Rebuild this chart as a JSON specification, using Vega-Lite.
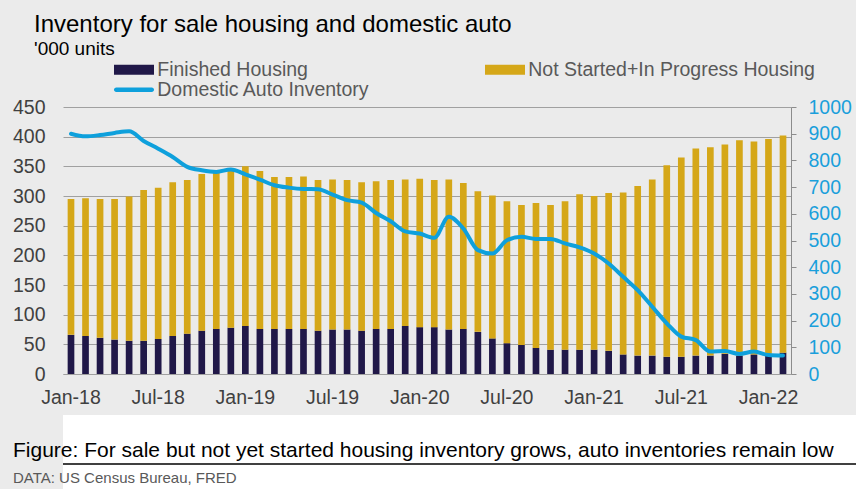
{
  "$schema": "https://vega.github.io/schema/vega-lite/v6.json",
  "background": "#ebebeb",
  "padding": {"left": 12, "top": 13, "right": 0, "bottom": 0},
  "spacing": 8,
  "config": {"font": "Liberation Sans", "view": {"stroke": null}},
  "datasets": {
    "housing": [
      {"month":"Jan-18","series":"Finished Housing","value":66},{"month":"Jan-18","series":"Not Started+In Progress Housing","value":229},
      {"month":"Feb-18","series":"Finished Housing","value":64},{"month":"Feb-18","series":"Not Started+In Progress Housing","value":232},
      {"month":"Mar-18","series":"Finished Housing","value":61},{"month":"Mar-18","series":"Not Started+In Progress Housing","value":234},
      {"month":"Apr-18","series":"Finished Housing","value":58},{"month":"Apr-18","series":"Not Started+In Progress Housing","value":237},
      {"month":"May-18","series":"Finished Housing","value":56},{"month":"May-18","series":"Not Started+In Progress Housing","value":243},
      {"month":"Jun-18","series":"Finished Housing","value":56},{"month":"Jun-18","series":"Not Started+In Progress Housing","value":254},
      {"month":"Jul-18","series":"Finished Housing","value":59},{"month":"Jul-18","series":"Not Started+In Progress Housing","value":255},
      {"month":"Aug-18","series":"Finished Housing","value":64},{"month":"Aug-18","series":"Not Started+In Progress Housing","value":259},
      {"month":"Sep-18","series":"Finished Housing","value":68},{"month":"Sep-18","series":"Not Started+In Progress Housing","value":259},
      {"month":"Oct-18","series":"Finished Housing","value":73},{"month":"Oct-18","series":"Not Started+In Progress Housing","value":264},
      {"month":"Nov-18","series":"Finished Housing","value":76},{"month":"Nov-18","series":"Not Started+In Progress Housing","value":265},
      {"month":"Dec-18","series":"Finished Housing","value":78},{"month":"Dec-18","series":"Not Started+In Progress Housing","value":268},
      {"month":"Jan-19","series":"Finished Housing","value":81},{"month":"Jan-19","series":"Not Started+In Progress Housing","value":269},
      {"month":"Feb-19","series":"Finished Housing","value":76},{"month":"Feb-19","series":"Not Started+In Progress Housing","value":266},
      {"month":"Mar-19","series":"Finished Housing","value":76},{"month":"Mar-19","series":"Not Started+In Progress Housing","value":256},
      {"month":"Apr-19","series":"Finished Housing","value":76},{"month":"Apr-19","series":"Not Started+In Progress Housing","value":256},
      {"month":"May-19","series":"Finished Housing","value":76},{"month":"May-19","series":"Not Started+In Progress Housing","value":257},
      {"month":"Jun-19","series":"Finished Housing","value":73},{"month":"Jun-19","series":"Not Started+In Progress Housing","value":254},
      {"month":"Jul-19","series":"Finished Housing","value":75},{"month":"Jul-19","series":"Not Started+In Progress Housing","value":253},
      {"month":"Aug-19","series":"Finished Housing","value":75},{"month":"Aug-19","series":"Not Started+In Progress Housing","value":252},
      {"month":"Sep-19","series":"Finished Housing","value":73},{"month":"Sep-19","series":"Not Started+In Progress Housing","value":250},
      {"month":"Oct-19","series":"Finished Housing","value":76},{"month":"Oct-19","series":"Not Started+In Progress Housing","value":249},
      {"month":"Nov-19","series":"Finished Housing","value":76},{"month":"Nov-19","series":"Not Started+In Progress Housing","value":251},
      {"month":"Dec-19","series":"Finished Housing","value":81},{"month":"Dec-19","series":"Not Started+In Progress Housing","value":247},
      {"month":"Jan-20","series":"Finished Housing","value":79},{"month":"Jan-20","series":"Not Started+In Progress Housing","value":250},
      {"month":"Feb-20","series":"Finished Housing","value":79},{"month":"Feb-20","series":"Not Started+In Progress Housing","value":248},
      {"month":"Mar-20","series":"Finished Housing","value":75},{"month":"Mar-20","series":"Not Started+In Progress Housing","value":253},
      {"month":"Apr-20","series":"Finished Housing","value":76},{"month":"Apr-20","series":"Not Started+In Progress Housing","value":246},
      {"month":"May-20","series":"Finished Housing","value":71},{"month":"May-20","series":"Not Started+In Progress Housing","value":237},
      {"month":"Jun-20","series":"Finished Housing","value":60},{"month":"Jun-20","series":"Not Started+In Progress Housing","value":241},
      {"month":"Jul-20","series":"Finished Housing","value":52},{"month":"Jul-20","series":"Not Started+In Progress Housing","value":239},
      {"month":"Aug-20","series":"Finished Housing","value":49},{"month":"Aug-20","series":"Not Started+In Progress Housing","value":236},
      {"month":"Sep-20","series":"Finished Housing","value":44},{"month":"Sep-20","series":"Not Started+In Progress Housing","value":244},
      {"month":"Oct-20","series":"Finished Housing","value":41},{"month":"Oct-20","series":"Not Started+In Progress Housing","value":244},
      {"month":"Nov-20","series":"Finished Housing","value":41},{"month":"Nov-20","series":"Not Started+In Progress Housing","value":250},
      {"month":"Dec-20","series":"Finished Housing","value":41},{"month":"Dec-20","series":"Not Started+In Progress Housing","value":262},
      {"month":"Jan-21","series":"Finished Housing","value":41},{"month":"Jan-21","series":"Not Started+In Progress Housing","value":259},
      {"month":"Feb-21","series":"Finished Housing","value":39},{"month":"Feb-21","series":"Not Started+In Progress Housing","value":266},
      {"month":"Mar-21","series":"Finished Housing","value":33},{"month":"Mar-21","series":"Not Started+In Progress Housing","value":273},
      {"month":"Apr-21","series":"Finished Housing","value":31},{"month":"Apr-21","series":"Not Started+In Progress Housing","value":286},
      {"month":"May-21","series":"Finished Housing","value":31},{"month":"May-21","series":"Not Started+In Progress Housing","value":297},
      {"month":"Jun-21","series":"Finished Housing","value":29},{"month":"Jun-21","series":"Not Started+In Progress Housing","value":323},
      {"month":"Jul-21","series":"Finished Housing","value":29},{"month":"Jul-21","series":"Not Started+In Progress Housing","value":336},
      {"month":"Aug-21","series":"Finished Housing","value":31},{"month":"Aug-21","series":"Not Started+In Progress Housing","value":349},
      {"month":"Sep-21","series":"Finished Housing","value":31},{"month":"Sep-21","series":"Not Started+In Progress Housing","value":351},
      {"month":"Oct-21","series":"Finished Housing","value":34},{"month":"Oct-21","series":"Not Started+In Progress Housing","value":353},
      {"month":"Nov-21","series":"Finished Housing","value":31},{"month":"Nov-21","series":"Not Started+In Progress Housing","value":363},
      {"month":"Dec-21","series":"Finished Housing","value":33},{"month":"Dec-21","series":"Not Started+In Progress Housing","value":359},
      {"month":"Jan-22","series":"Finished Housing","value":31},{"month":"Jan-22","series":"Not Started+In Progress Housing","value":365},
      {"month":"Feb-22","series":"Finished Housing","value":36},{"month":"Feb-22","series":"Not Started+In Progress Housing","value":366}
    ],
    "auto": [
      {"month":"Jan-18","series":"Domestic Auto Inventory","value":900},
      {"month":"Feb-18","series":"Domestic Auto Inventory","value":890},
      {"month":"Mar-18","series":"Domestic Auto Inventory","value":895},
      {"month":"Apr-18","series":"Domestic Auto Inventory","value":903},
      {"month":"May-18","series":"Domestic Auto Inventory","value":909},
      {"month":"Jun-18","series":"Domestic Auto Inventory","value":873},
      {"month":"Jul-18","series":"Domestic Auto Inventory","value":844},
      {"month":"Aug-18","series":"Domestic Auto Inventory","value":813},
      {"month":"Sep-18","series":"Domestic Auto Inventory","value":776},
      {"month":"Oct-18","series":"Domestic Auto Inventory","value":763},
      {"month":"Nov-18","series":"Domestic Auto Inventory","value":757},
      {"month":"Dec-18","series":"Domestic Auto Inventory","value":766},
      {"month":"Jan-19","series":"Domestic Auto Inventory","value":748},
      {"month":"Feb-19","series":"Domestic Auto Inventory","value":728},
      {"month":"Mar-19","series":"Domestic Auto Inventory","value":707},
      {"month":"Apr-19","series":"Domestic Auto Inventory","value":698},
      {"month":"May-19","series":"Domestic Auto Inventory","value":693},
      {"month":"Jun-19","series":"Domestic Auto Inventory","value":692},
      {"month":"Jul-19","series":"Domestic Auto Inventory","value":672},
      {"month":"Aug-19","series":"Domestic Auto Inventory","value":651},
      {"month":"Sep-19","series":"Domestic Auto Inventory","value":642},
      {"month":"Oct-19","series":"Domestic Auto Inventory","value":603},
      {"month":"Nov-19","series":"Domestic Auto Inventory","value":572},
      {"month":"Dec-19","series":"Domestic Auto Inventory","value":534},
      {"month":"Jan-20","series":"Domestic Auto Inventory","value":526},
      {"month":"Feb-20","series":"Domestic Auto Inventory","value":510},
      {"month":"Mar-20","series":"Domestic Auto Inventory","value":589},
      {"month":"Apr-20","series":"Domestic Auto Inventory","value":545},
      {"month":"May-20","series":"Domestic Auto Inventory","value":464},
      {"month":"Jun-20","series":"Domestic Auto Inventory","value":451},
      {"month":"Jul-20","series":"Domestic Auto Inventory","value":501},
      {"month":"Aug-20","series":"Domestic Auto Inventory","value":514},
      {"month":"Sep-20","series":"Domestic Auto Inventory","value":506},
      {"month":"Oct-20","series":"Domestic Auto Inventory","value":506},
      {"month":"Nov-20","series":"Domestic Auto Inventory","value":489},
      {"month":"Dec-20","series":"Domestic Auto Inventory","value":474},
      {"month":"Jan-21","series":"Domestic Auto Inventory","value":451},
      {"month":"Feb-21","series":"Domestic Auto Inventory","value":414},
      {"month":"Mar-21","series":"Domestic Auto Inventory","value":364},
      {"month":"Apr-21","series":"Domestic Auto Inventory","value":314},
      {"month":"May-21","series":"Domestic Auto Inventory","value":252},
      {"month":"Jun-21","series":"Domestic Auto Inventory","value":190},
      {"month":"Jul-21","series":"Domestic Auto Inventory","value":140},
      {"month":"Aug-21","series":"Domestic Auto Inventory","value":127},
      {"month":"Sep-21","series":"Domestic Auto Inventory","value":84},
      {"month":"Oct-21","series":"Domestic Auto Inventory","value":86},
      {"month":"Nov-21","series":"Domestic Auto Inventory","value":75},
      {"month":"Dec-21","series":"Domestic Auto Inventory","value":84},
      {"month":"Jan-22","series":"Domestic Auto Inventory","value":71},
      {"month":"Feb-22","series":"Domestic Auto Inventory","value":69}
    ]
  },
  "vconcat": [
    {
      "width": 728,
      "height": 267,
      "title": {
        "text": "Inventory for sale housing and domestic auto",
        "subtitle": "'000 units",
        "anchor": "start",
        "frame": "group",
        "dx": -29,
        "offset": 37.5,
        "fontSize": 24,
        "fontWeight": "normal",
        "color": "#000000",
        "subtitleFontSize": 19,
        "subtitleColor": "#000000",
        "subtitlePadding": 3.3
      },
      "layer": [
        {
          "data": {"name": "housing"},
          "mark": {"type": "bar"},
          "encoding": {
            "x": {
              "field": "month", "type": "ordinal", "sort": null,
              "scale": {"paddingInner": 0.54, "paddingOuter": 0.32},
              "axis": {
                "values": ["Jan-18","Jul-18","Jan-19","Jul-19","Jan-20","Jul-20","Jan-21","Jul-21","Jan-22"],
                "labelAngle": 0, "ticks": false, "domainColor": "#a0a0a0",
                "labelFontSize": 19.5, "labelColor": "#404040", "labelPadding": 14,
                "title": null, "grid": false
              }
            },
            "y": {
              "field": "value", "type": "quantitative", "stack": "zero",
              "scale": {"domain": [0, 450], "nice": false},
              "axis": {
                "orient": "left",
                "values": [0,50,100,150,200,250,300,350,400,450],
                "grid": true, "gridColor": "#a0a0a0", "domain": false, "ticks": false,
                "labelPadding": 18, "labelFontSize": 19.5, "labelColor": "#404040", "title": null
              }
            },
            "order": {"field": "series", "type": "nominal", "sort": "ascending"},
            "color": {
              "field": "series", "type": "nominal",
              "scale": {
                "domain": ["Finished Housing", "Not Started+In Progress Housing", "Domestic Auto Inventory"],
                "range": ["#201848", "#d5a718", "#0ea0dc"]
              },
              "legend": {
                "orient": "none", "legendX": 51, "legendY": -47.5,
                "direction": "horizontal", "columns": 2, "columnPadding": 115, "rowPadding": -0.5,
                "title": null, "padding": 0,
                "labelFontSize": 19.5, "labelColor": "#595959", "labelLimit": 400,
                "symbolSize": 100, "symbolOffset": 10.25, "labelOffset": 13.5, "symbolStrokeWidth": 0,
                "encode": {
                  "symbols": {
                    "update": {
                      "shape": {"signal": "datum.value === 'Domestic Auto Inventory' ? 'M-3.55,-0.45H3.55A0.45,0.45,0,0,1,3.55,0.45H-3.55A0.45,0.45,0,0,1,-3.55,-0.45Z' : 'M-4,-1H4V1H-4Z'"},
                      "fill": {"scale": "color", "field": "value"},
                      "strokeWidth": {"value": 0},
                      "opacity": {"value": 1}
                    }
                  }
                }
              }
            }
          }
        },
        {
          "data": {"name": "auto"},
          "mark": {"type": "line", "interpolate": "monotone", "strokeWidth": 4, "strokeCap": "round"},
          "encoding": {
            "x": {"field": "month", "type": "ordinal", "sort": null},
            "y": {
              "field": "value", "type": "quantitative",
              "scale": {"domain": [0, 1000], "nice": false},
              "axis": {
                "orient": "right", "format": "d",
                "values": [0,100,200,300,400,500,600,700,800,900,1000],
                "grid": false, "domain": true, "domainColor": "#8c8c8c",
                "ticks": true, "tickColor": "#8c8c8c", "tickSize": 5,
                "labelPadding": 12, "labelFontSize": 19.5, "labelColor": "#1a9fdb", "title": null
              }
            },
            "color": {"field": "series", "type": "nominal"}
          }
        }
      ],
      "resolve": {"scale": {"y": "independent"}}
    },
    {
      "width": 794,
      "height": 74,
      "view": {"fill": "#ffffff", "stroke": null},
      "title": {
        "text": "Figure: For sale but not yet started housing inventory grows, auto inventories remain low",
        "subtitle": "DATA: US Census Bureau, FRED",
        "anchor": "start",
        "frame": "group",
        "orient": "top",
        "offset": -71,
        "dx": -50,
        "fontSize": 21,
        "fontWeight": "normal",
        "color": "#000000",
        "subtitleFontSize": 15,
        "subtitleColor": "#595959",
        "subtitlePadding": 10.5
      },
      "data": {"values": [{"level": 0}]},
      "mark": {"type": "rule", "color": "#000000", "strokeWidth": 1.3},
      "encoding": {
        "y": {"field": "level", "type": "quantitative", "scale": {"domain": [-0.51, 1], "nice": false, "zero": false}, "axis": null}
      }
    }
  ]
}
